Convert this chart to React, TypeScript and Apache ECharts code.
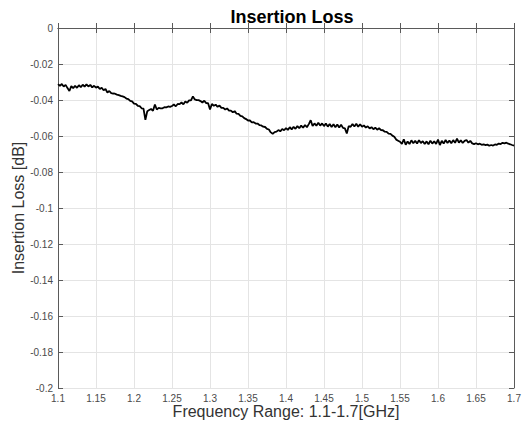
import React, { useEffect, useRef } from "react";
import * as echarts from "echarts";

const TITLE = "Insertion Loss";
const X_NAME = "Frequency Range: 1.1-1.7[GHz]";
const Y_NAME = "Insertion Loss [dB]";
const FREQ_START = 1.1;
const FREQ_STEP = 0.0025;

const seg1 = [-0.0312, -0.0321, -0.0311, -0.0325, -0.0316, -0.0334, -0.035, -0.0323, -0.0334, -0.0321, -0.0332, -0.0318, -0.0329, -0.0315, -0.0326, -0.0313, -0.0325, -0.0316, -0.033, -0.0321];
const seg2 = [-0.0331, -0.0326, -0.0339, -0.0332, -0.0346, -0.0339, -0.0358, -0.035, -0.0362, -0.0364, -0.0365, -0.037, -0.0373, -0.0377, -0.038, -0.0384, -0.0392, -0.0395, -0.0405, -0.0408];
const seg3 = [-0.042, -0.0422, -0.0432, -0.0434, -0.0446, -0.0448, -0.051, -0.0462, -0.0456, -0.045, -0.046, -0.0425, -0.0453, -0.0444, -0.0447, -0.0446, -0.044, -0.0441, -0.0436, -0.0438];
const seg4 = [-0.0433, -0.0425, -0.0435, -0.0422, -0.0423, -0.0414, -0.0424, -0.0408, -0.0415, -0.0402, -0.0402, -0.038, -0.0397, -0.0401, -0.0401, -0.0406, -0.0414, -0.0404, -0.0417, -0.0418];
const seg5 = [-0.0452, -0.0422, -0.0432, -0.0426, -0.0438, -0.0431, -0.0444, -0.0444, -0.0453, -0.0447, -0.0459, -0.0459, -0.0468, -0.0462, -0.0476, -0.0477, -0.0488, -0.0491, -0.0501, -0.0506];
const seg6 = [-0.0514, -0.0514, -0.0524, -0.0523, -0.0531, -0.0531, -0.0539, -0.0541, -0.0548, -0.055, -0.056, -0.0564, -0.058, -0.0588, -0.0578, -0.0576, -0.0567, -0.0574, -0.0561, -0.0568];
const seg7 = [-0.0556, -0.0566, -0.0551, -0.0563, -0.0549, -0.056, -0.0545, -0.0557, -0.0542, -0.0554, -0.0539, -0.0551, -0.0534, -0.0512, -0.0545, -0.053, -0.0543, -0.0526, -0.0542, -0.053];
const seg8 = [-0.0545, -0.0531, -0.0548, -0.0533, -0.055, -0.0535, -0.0551, -0.0536, -0.0553, -0.0538, -0.0555, -0.0558, -0.0586, -0.0545, -0.0549, -0.0533, -0.0547, -0.0532, -0.0548, -0.0535];
const seg9 = [-0.0548, -0.0541, -0.0553, -0.0546, -0.0558, -0.0551, -0.0562, -0.0554, -0.0565, -0.0557, -0.0567, -0.0568, -0.0576, -0.0577, -0.0587, -0.0588, -0.0598, -0.0604, -0.062, -0.0626];
const seg10 = [-0.0632, -0.0644, -0.0618, -0.0649, -0.063, -0.0645, -0.0624, -0.064, -0.0627, -0.0642, -0.0623, -0.0639, -0.0629, -0.0644, -0.063, -0.0646, -0.0626, -0.0642, -0.0629, -0.0644];
const seg11 = [-0.062, -0.065, -0.0627, -0.0642, -0.0622, -0.0639, -0.0625, -0.064, -0.0623, -0.0638, -0.0615, -0.0637, -0.0624, -0.0639, -0.0627, -0.0622, -0.0637, -0.0627, -0.0641, -0.0645];
const seg12 = [-0.064, -0.0646, -0.0643, -0.0649, -0.0646, -0.0651, -0.0648, -0.0654, -0.065, -0.0653, -0.0647, -0.0649, -0.0642, -0.0645, -0.0638, -0.0641, -0.0637, -0.0643, -0.0646, -0.065, -0.0653];

const LOSS = [...seg1, ...seg2, ...seg3, ...seg4, ...seg5, ...seg6, ...seg7, ...seg8, ...seg9, ...seg10, ...seg11, ...seg12];

const FONT = "Liberation Sans, Arial, Helvetica, sans-serif";
const fmt = (v: number) => String(+v.toFixed(2));

export default function App() {
  const ref = useRef<HTMLDivElement>(null);
  useEffect(() => {
    document.body.style.margin = "0";
    if (!ref.current) return;
    const chart = echarts.init(ref.current, undefined, { renderer: "svg" });
    const data = LOSS.map((y, i) => [+(FREQ_START + i * FREQ_STEP).toFixed(4), y]);
    const frame = { show: true, lineStyle: { color: "#5a5a5a", width: 1 } };
    const tickIn = { show: true, inside: true, length: 5, lineStyle: { color: "#5a5a5a" } };
    chart.setOption({
      animation: false,
      title: {
        text: TITLE,
        left: 287,
        textAlign: "center",
        top: 3,
        textStyle: { fontFamily: FONT, fontSize: 18, fontWeight: "bold", color: "#000" },
      },
      grid: { left: 58, right: 9, top: 28, bottom: 44, containLabel: false, outerBoundsMode: "none" },
      xAxis: [
        {
          type: "value",
          min: 1.1,
          max: 1.7,
          interval: 0.05,
          name: X_NAME,
          nameLocation: "middle",
          nameGap: 15,
          nameMoveOverlap: false,
          nameTextStyle: { fontFamily: FONT, fontSize: 16, color: "#333" },
          axisLine: frame,
          axisTick: tickIn,
          axisLabel: { fontFamily: FONT, fontSize: 10, color: "#4a4a4a", margin: 5, formatter: fmt },
          splitLine: { show: true, lineStyle: { color: "#e4e4e4", width: 1 } },
        },
        {
          type: "value",
          position: "top",
          min: 1.1,
          max: 1.7,
          interval: 0.05,
          axisLine: frame,
          axisTick: tickIn,
          axisLabel: { show: false },
          splitLine: { show: false },
        },
      ],
      yAxis: [
        {
          type: "value",
          min: -0.2,
          max: 0,
          interval: 0.02,
          name: Y_NAME,
          nameLocation: "middle",
          nameGap: 32,
          nameMoveOverlap: false,
          nameTextStyle: { fontFamily: FONT, fontSize: 16, color: "#333" },
          axisLine: frame,
          axisTick: tickIn,
          axisLabel: { fontFamily: FONT, fontSize: 10, color: "#4a4a4a", margin: 5, formatter: fmt },
          splitLine: { show: true, lineStyle: { color: "#e4e4e4", width: 1 } },
        },
        {
          type: "value",
          position: "right",
          min: -0.2,
          max: 0,
          interval: 0.02,
          axisLine: frame,
          axisTick: tickIn,
          axisLabel: { show: false },
          splitLine: { show: false },
        },
      ],
      series: [
        {
          type: "line",
          data,
          showSymbol: false,
          symbol: "none",
          lineStyle: { color: "#000", width: 1.8 },
          xAxisIndex: 0,
          yAxisIndex: 0,
        },
      ],
    });
    return () => chart.dispose();
  }, []);
  return <div ref={ref} style={{ width: 523, height: 432 }} />;
}
